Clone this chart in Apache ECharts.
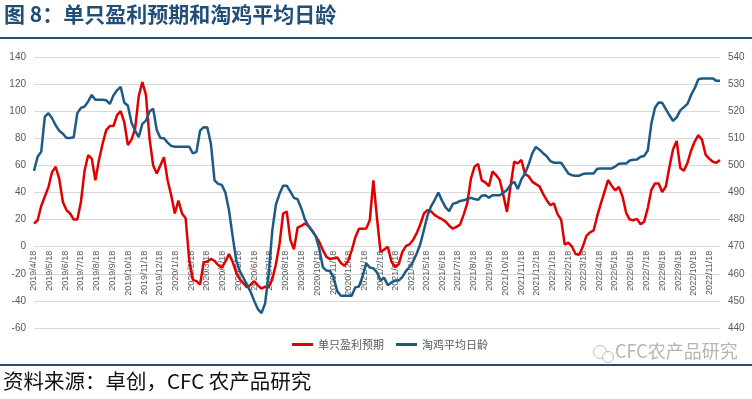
<!DOCTYPE html>
<html>
<head>
<meta charset="utf-8">
<script src="https://cdn.jsdelivr.net/npm/echarts@6/dist/echarts.min.js"></script>
<style>
html,body{margin:0;padding:0;background:#fff;}
#chart{width:752px;height:399px;}
</style>
</head>
<body>
<div id="chart"></div>
<script>
// weekly data, first week 2019/4/18
const startDate = [2019, 4, 18];

// 单只盈利预期 (left axis)
const profit = [
  17, 19.5, 30, 37, 44, 55, 59, 50, 33, 27, 24.5, 20, 20, 33, 56, 67.5, 65, 49, 64, 76,
  86, 89, 89, 97, 100, 92, 75, 79, 87, 111, 121.5, 112, 80, 60, 54, 60, 66, 49, 38, 24.5,
  34, 24.5, 21, -10, -24.5, -25.4, -28, -11.4, -11, -9, -10.5, -13.5, -15.5, -11, -5.5, -11, -19, -24, -27, -30,
  -28, -25.5, -28.5, -31, -29.5, -30, -24, -13, 2, 24.5, 26, 5, -2, 14, 15.3, 17, 15.5, 12, 8, 3.5,
  -2.5, -7.5, -9.2, -8.5, -8, -12, -14, -10.5, -2.7, 7, 13.3, 13.3, 13.5, 19.5, 49, 21, -4, -2, 0, -11,
  -15, -13, -4, 0.5, 1.8, 5, 10, 16.5, 24.5, 27, 26, 23.3, 21.7, 20.3, 18.5, 15.5, 13.3, 14.6, 16.3, 23.7,
  32, 50, 59, 61, 49, 47.5, 44.7, 55.5, 52.8, 49.2, 38, 25.7, 45, 62.7, 61.5, 64, 53.6, 52, 48, 46.2,
  44.5, 39, 34.3, 30.6, 31.9, 24, 20, 1.5, 3, 0, -5.4, -6, 0, 8, 10.6, 12, 22.7, 31.8, 40.5, 49.2,
  45, 41.5, 44.2, 37, 25, 20, 19.5, 20.5, 16.5, 18.5, 28.6, 42, 46.7, 46.7, 40.3, 44.5, 59, 72, 78, 58,
  56, 62, 71, 77.6, 82.3, 79, 68, 65, 62.7, 62, 64
];

// 淘鸡平均日龄 (right axis)
const cullAge = [
  498, 503.2, 505, 518, 519.3, 517.4, 514.8, 512.8, 511.7, 510.1, 510.1, 510.4, 519.3, 521.2, 521.7, 523.6, 526, 524.2, 524.2, 524.2,
  524, 522.7, 525.8, 527.7, 529, 523.2, 522, 515.8, 512.8, 510.4, 515.3, 516.5, 519.9, 520.9, 513.1, 510.1, 510, 508.4, 507.2, 506.9,
  506.9, 506.9, 506.9, 506.9, 504.4, 505, 512.8, 514.1, 514, 508, 494.5, 493.2, 492.8, 490, 483.5, 474, 465, 461, 458.5, 456,
  453.3, 450, 447, 445.5, 449, 460, 476, 485.5, 489.5, 492.5, 492.5, 490.3, 488, 487.5, 484.3, 480.2, 477.6, 475.9, 474, 469.3,
  462.5, 461.2, 461, 458.5, 453.5, 451.9, 451.9, 451.9, 451.9, 455, 455.3, 459, 463.9, 462.3, 462, 460.5, 457.6, 458.5, 455.8, 456.8,
  457.5, 457.5, 458.8, 461, 462.5, 464.5, 467.5, 471, 476.2, 481.5, 485, 487.3, 490, 487, 484.5, 483.1, 485.8, 486.2, 486.9, 487.1,
  487.6, 488, 487.6, 487.3, 488.8, 489, 488.1, 489, 489, 489, 489.9, 490.9, 492.9, 494, 491.3, 494.9, 497, 500.3, 504.4, 506.8,
  505.8, 504.5, 503.4, 501.6, 501, 501, 501, 499, 497, 496.4, 496.2, 496.2, 496.8, 497, 497, 497, 498.8, 498.9, 498.9, 498.9,
  498.9, 499.6, 500.6, 500.7, 500.7, 501.8, 502.1, 502.2, 503.2, 503.5, 505.5, 515.5, 521.3, 523.2, 523.1, 520.8, 518.5, 516.4, 517.7, 520.3,
  521.5, 522.7, 526, 528.5, 531.8, 532.1, 532.1, 532.1, 532.1, 531.2, 531.2
];

const monthLabels = [
  '2019/4/18','2019/5/18','2019/6/18','2019/7/18','2019/8/18','2019/9/18','2019/10/18','2019/11/18','2019/12/18',
  '2020/1/18','2020/2/18','2020/3/18','2020/4/18','2020/5/18','2020/6/18','2020/7/18','2020/8/18','2020/9/18','2020/10/18','2020/11/18','2020/12/18',
  '2021/1/18','2021/2/18','2021/3/18','2021/4/18','2021/5/18','2021/6/18','2021/7/18','2021/8/18','2021/9/18','2021/10/18','2021/11/18','2021/12/18',
  '2022/1/18','2022/2/18','2022/3/18','2022/4/18','2022/5/18','2022/6/18','2022/7/18','2022/8/18','2022/9/18','2022/10/18','2022/11/18'
];

const leftTicks = {min: -60, max: 140, interval: 20};
const rightTicks = {min: 440, max: 540, interval: 10};

// x positions are Excel-style day serials (days since 1899/12/30)
const DAY = 86400000;
const EPOCH = Date.UTC(1899, 11, 30);
function serial(y, m, d) {
  return Math.round((Date.UTC(y, m - 1, d) - EPOCH) / DAY);
}
const firstDay = serial(startDate[0], startDate[1], startDate[2]);
const labelDays = monthLabels.map(s => {
  const p = s.split('/').map(Number);
  return serial(p[0], p[1], p[2]);
});

const profitData = profit.map((v, i) => [firstDay + 7 * i, v]);
const ageData = cullAge.map((v, i) => [firstDay + 7 * i, v]);

const axisFont = 'Liberation Sans';
const cjkFont = 'Noto Sans CJK SC';

// plot box
const gridTop = 57, gridHeight = 271;
// lift the date axis from the bottom edge up to the zero line of the left axis
const zeroOffset = -gridHeight * (0 - leftTicks.min) / (leftTicks.max - leftTicks.min);

const myChart = echarts.init(document.getElementById('chart'));
const option = {
  animation: false,
  title: {
    text: '图 8：单只盈利预期和淘鸡平均日龄',
    left: 4, top: 4, padding: 0,
    textStyle: {fontSize: 21, fontWeight: 'bold', color: '#1F4E79', fontFamily: cjkFont}
  },
  graphic: [
    {type: 'line', shape: {x1: 0, y1: 38, x2: 752, y2: 38}, style: {stroke: '#1F4E79', lineWidth: 2}},
    {type: 'line', shape: {x1: 0, y1: 365, x2: 752, y2: 365}, style: {stroke: '#1F4E79', lineWidth: 2}},
    {type: 'text', left: 3, top: 371, style: {text: '资料来源：卓创，CFC 农产品研究', font: '20.5px "Noto Sans CJK SC"', fill: '#111'}},
    {type: 'circle', shape: {cx: 600, cy: 352, r: 6.5}, style: {fill: '#fff', stroke: '#bbb', lineWidth: 1}},
    {type: 'circle', shape: {cx: 608, cy: 357, r: 5.5}, style: {fill: '#fff', stroke: '#bbb', lineWidth: 1}},
    {type: 'text', left: 615, top: 342, style: {text: 'CFC农产品研究', font: '18px "Noto Sans CJK SC"', fill: '#b5b5b5'}}
  ],
  legend: {
    left: 292, top: 339, padding: 0,
    itemWidth: 21, itemHeight: 3, itemGap: 12, icon: 'rect',
    textStyle: {fontSize: 11, color: '#595959', fontFamily: cjkFont},
    data: ['单只盈利预期', '淘鸡平均日龄']
  },
  grid: {left: 34, right: 32, top: gridTop, height: gridHeight, containLabel: false},
  xAxis: {
    type: 'value',
    min: firstDay,
    max: firstDay + 7 * (profit.length - 1),
    position: 'bottom',
    offset: zeroOffset,
    axisLine: {onZero: false, lineStyle: {color: '#d9d9d9', width: 1}},
    axisTick: {show: false},
    splitLine: {show: false},
    axisLabel: {
      customValues: labelDays,
      rotate: 90,
      margin: 4,
      fontSize: 9,
      color: '#595959',
      fontFamily: axisFont,
      formatter: function (val) {
        const idx = labelDays.indexOf(val);
        return idx >= 0 ? monthLabels[idx] : '';
      }
    }
  },
  yAxis: [
    {
      type: 'value',
      min: leftTicks.min, max: leftTicks.max, interval: leftTicks.interval,
      axisLine: {show: false, onZero: false}, axisTick: {show: false},
      splitLine: {lineStyle: {color: '#d9d9d9', width: 1}},
      axisLabel: {fontSize: 10, color: '#595959', margin: 8, fontFamily: axisFont}
    },
    {
      type: 'value',
      min: rightTicks.min, max: rightTicks.max, interval: rightTicks.interval,
      axisLine: {show: false, onZero: false}, axisTick: {show: false},
      splitLine: {show: false},
      axisLabel: {fontSize: 10, color: '#595959', margin: 8, fontFamily: axisFont}
    }
  ],
  series: [
    {
      name: '单只盈利预期', type: 'line', yAxisIndex: 0,
      data: profitData, showSymbol: false, symbol: 'none',
      lineStyle: {color: '#E00000', width: 2.5},
      itemStyle: {color: '#E00000'}
    },
    {
      name: '淘鸡平均日龄', type: 'line', yAxisIndex: 1,
      data: ageData, showSymbol: false, symbol: 'none',
      lineStyle: {color: '#1D5B87', width: 2.5},
      itemStyle: {color: '#1D5B87'}
    }
  ]
};
myChart.setOption(option);
window.addEventListener('resize', () => {
  myChart.resize();
});
</script>
</body>
</html>
